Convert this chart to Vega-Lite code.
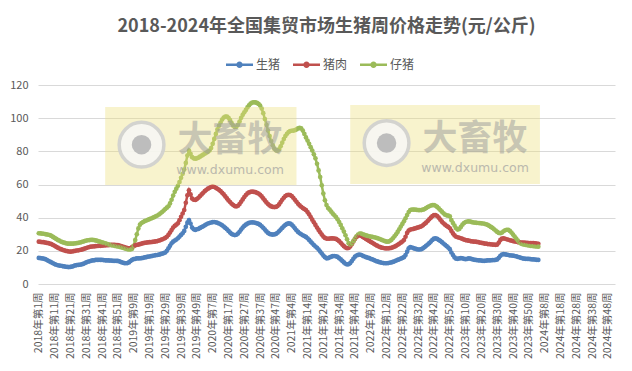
{
"$schema":"https://vega.github.io/schema/vega-lite/v6.json",
"width":577,"height":199,
"autosize":{"type":"none"},
"padding":{"left":38,"top":85,"right":17,"bottom":87},
"background":"white",
"config":{"font":"Noto Sans CJK SC","view":{"stroke":null}},
"title":{"text":"2018-2024年全国集贸市场生猪周价格走势(元/公斤)","fontSize":18,"fontWeight":"bold","color":"#595959","font":"Noto Sans CJK SC","anchor":"middle","frame":"group","offset":15},
"resolve":{"axis":{"x":"independent","y":"independent"}},
"layer":[
{"data":{"values":[
{"w":"2018年第1周","生猪":15.7,"猪肉":25.5,"仔猪":30.6},{"w":"2018年第2周","生猪":15.6,"猪肉":25.4,"仔猪":30.5},{"w":"2018年第3周","生猪":15.5,"猪肉":25.3,"仔猪":30.4},{"w":"2018年第4周","生猪":15.3,"猪肉":25.2,"仔猪":30.3},{"w":"2018年第5周","生猪":15.0,"猪肉":25.0,"仔猪":30.1},{"w":"2018年第6周","生猪":14.6,"猪肉":24.8,"仔猪":29.9},{"w":"2018年第7周","生猪":14.0,"猪肉":24.6,"仔猪":29.7},{"w":"2018年第8周","生猪":13.5,"猪肉":24.4,"仔猪":29.5},{"w":"2018年第9周","生猪":13.0,"猪肉":24.0,"仔猪":29.0},{"w":"2018年第10周","生猪":12.5,"猪肉":23.5,"仔猪":28.4},
{"w":"2018年第11周","生猪":12.0,"猪肉":23.0,"仔猪":27.8},{"w":"2018年第12周","生猪":11.6,"猪肉":22.4,"仔猪":27.2},{"w":"2018年第13周","生猪":11.3,"猪肉":21.9,"仔猪":26.6},{"w":"2018年第14周","生猪":11.1,"猪肉":21.4,"仔猪":26.1},{"w":"2018年第15周","生猪":11.0,"猪肉":21.0,"仔猪":25.6},{"w":"2018年第16周","生猪":10.8,"猪肉":20.6,"仔猪":25.2},{"w":"2018年第17周","生猪":10.6,"猪肉":20.3,"仔猪":24.9},{"w":"2018年第18周","生猪":10.4,"猪肉":20.0,"仔猪":24.6},{"w":"2018年第19周","生猪":10.3,"猪肉":19.8,"仔猪":24.4},{"w":"2018年第20周","生猪":10.2,"猪肉":19.6,"仔猪":24.3},
{"w":"2018年第21周","生猪":10.3,"猪肉":19.5,"仔猪":24.3},{"w":"2018年第22周","生猪":10.5,"猪肉":19.6,"仔猪":24.3},{"w":"2018年第23周","生猪":10.8,"猪肉":19.8,"仔猪":24.4},{"w":"2018年第24周","生猪":11.2,"猪肉":20.0,"仔猪":24.5},{"w":"2018年第25周","生猪":11.4,"猪肉":20.2,"仔猪":24.6},{"w":"2018年第26周","生猪":11.5,"猪肉":20.3,"仔猪":24.8},{"w":"2018年第27周","生猪":11.6,"猪肉":20.5,"仔猪":25.0},{"w":"2018年第28周","生猪":11.8,"猪肉":20.7,"仔猪":25.3},{"w":"2018年第29周","生猪":12.1,"猪肉":21.0,"仔猪":25.6},{"w":"2018年第30周","生猪":12.5,"猪肉":21.3,"仔猪":25.9},
{"w":"2018年第31周","生猪":13.0,"猪肉":21.7,"仔猪":26.2},{"w":"2018年第32周","生猪":13.4,"猪肉":22.0,"仔猪":26.4},{"w":"2018年第33周","生猪":13.7,"猪肉":22.3,"仔猪":26.5},{"w":"2018年第34周","生猪":14.0,"猪肉":22.5,"仔猪":26.6},{"w":"2018年第35周","生猪":14.2,"猪肉":22.6,"仔猪":26.6},{"w":"2018年第36周","生猪":14.3,"猪肉":22.7,"仔猪":26.5},{"w":"2018年第37周","生猪":14.5,"猪肉":22.8,"仔猪":26.3},{"w":"2018年第38周","生猪":14.5,"猪肉":22.9,"仔猪":26.0},{"w":"2018年第39周","生猪":14.6,"猪肉":23.0,"仔猪":25.7},{"w":"2018年第40周","生猪":14.5,"猪肉":23.0,"仔猪":25.4},
{"w":"2018年第41周","生猪":14.5,"猪肉":23.1,"仔猪":25.1},{"w":"2018年第42周","生猪":14.4,"猪肉":23.2,"仔猪":24.8},{"w":"2018年第43周","生猪":14.3,"猪肉":23.3,"仔猪":24.5},{"w":"2018年第44周","生猪":14.2,"猪肉":23.4,"仔猪":24.2},{"w":"2018年第45周","生猪":14.2,"猪肉":23.4,"仔猪":23.9},{"w":"2018年第46周","生猪":14.1,"猪肉":23.5,"仔猪":23.6},{"w":"2018年第47周","生猪":14.1,"猪肉":23.6,"仔猪":23.4},{"w":"2018年第48周","生猪":14.0,"猪肉":23.6,"仔猪":23.2},{"w":"2018年第49周","生猪":14.0,"猪肉":23.6,"仔猪":23.0},{"w":"2018年第50周","生猪":13.9,"猪肉":23.5,"仔猪":22.8},
{"w":"2018年第51周","生猪":13.9,"猪肉":23.4,"仔猪":22.6},{"w":"2018年第52周","生猪":13.6,"猪肉":23.2,"仔猪":22.4},
{"w":"2019年第1周","生猪":13.2,"猪肉":22.9,"仔猪":22.2},{"w":"2019年第2周","生猪":12.9,"猪肉":22.6,"仔猪":21.9},{"w":"2019年第3周","生猪":12.6,"猪肉":22.3,"仔猪":21.6},{"w":"2019年第4周","生猪":12.5,"猪肉":22.0,"仔猪":21.3},{"w":"2019年第5周","生猪":12.6,"猪肉":21.7,"仔猪":21.0},{"w":"2019年第6周","生猪":13.0,"猪肉":21.5,"仔猪":20.8},{"w":"2019年第7周","生猪":13.8,"猪肉":21.7,"仔猪":20.8},{"w":"2019年第8周","生猪":14.6,"猪肉":22.2,"仔猪":21.2},{"w":"2019年第9周","生猪":15.0,"猪肉":22.8,"仔猪":23.0},{"w":"2019年第10周","生猪":15.2,"猪肉":23.3,"仔猪":26.5},
{"w":"2019年第11周","生猪":15.4,"猪肉":23.6,"仔猪":30.0},{"w":"2019年第12周","生猪":15.5,"猪肉":23.8,"仔猪":33.5},{"w":"2019年第13周","生猪":15.5,"猪肉":24.0,"仔猪":35.8},{"w":"2019年第14周","生猪":15.6,"猪肉":24.3,"仔猪":36.8},{"w":"2019年第15周","生猪":15.8,"猪肉":24.6,"仔猪":37.4},{"w":"2019年第16周","生猪":16.0,"猪肉":24.8,"仔猪":37.9},{"w":"2019年第17周","生猪":16.2,"猪肉":25.0,"仔猪":38.3},{"w":"2019年第18周","生猪":16.5,"猪肉":25.1,"仔猪":38.7},{"w":"2019年第19周","生猪":16.6,"猪肉":25.2,"仔猪":39.1},{"w":"2019年第20周","生猪":16.8,"猪肉":25.3,"仔猪":39.5},
{"w":"2019年第21周","生猪":17.0,"猪肉":25.4,"仔猪":39.9},{"w":"2019年第22周","生猪":17.2,"猪肉":25.5,"仔猪":40.3},{"w":"2019年第23周","生猪":17.4,"猪肉":25.7,"仔猪":40.8},{"w":"2019年第24周","生猪":17.5,"猪肉":25.9,"仔猪":41.3},{"w":"2019年第25周","生猪":17.7,"猪肉":26.2,"仔猪":41.9},{"w":"2019年第26周","生猪":18.0,"猪肉":26.5,"仔猪":42.6},{"w":"2019年第27周","生猪":18.3,"猪肉":26.9,"仔猪":43.4},{"w":"2019年第28周","生猪":18.6,"猪肉":27.3,"仔猪":44.3},{"w":"2019年第29周","生猪":19.0,"猪肉":27.8,"仔猪":45.2},{"w":"2019年第30周","生猪":20.0,"猪肉":28.5,"仔猪":46.0},
{"w":"2019年第31周","生猪":21.5,"猪肉":29.6,"仔猪":46.9},{"w":"2019年第32周","生猪":23.0,"猪肉":31.0,"仔猪":48.6},{"w":"2019年第33周","生猪":24.5,"猪肉":32.5,"仔猪":50.8},{"w":"2019年第34周","生猪":25.5,"猪肉":34.0,"仔猪":53.3},{"w":"2019年第35周","生猪":26.2,"猪肉":35.0,"仔猪":55.6},{"w":"2019年第36周","生猪":26.8,"猪肉":35.8,"仔猪":57.5},{"w":"2019年第37周","生猪":27.6,"猪肉":36.6,"仔猪":59.2},{"w":"2019年第38周","生猪":28.6,"猪肉":38.5,"仔猪":61.5},{"w":"2019年第39周","生猪":29.6,"猪肉":40.5,"仔猪":64.0},{"w":"2019年第40周","生猪":30.6,"猪肉":42.5,"仔猪":66.5},
{"w":"2019年第41周","生猪":32.0,"猪肉":44.6,"仔猪":69.0},{"w":"2019年第42周","生猪":34.5,"猪肉":49.0,"仔猪":73.0},{"w":"2019年第43周","生猪":37.0,"猪肉":53.5,"仔猪":77.5},{"w":"2019年第44周","生猪":38.5,"猪肉":56.5,"仔猪":80.5},{"w":"2019年第45周","生猪":36.5,"猪肉":54.0,"仔猪":78.5},{"w":"2019年第46周","生猪":34.0,"猪肉":51.5,"仔猪":76.5},{"w":"2019年第47周","生猪":33.0,"猪肉":50.8,"仔猪":75.8},{"w":"2019年第48周","生猪":32.6,"猪肉":50.7,"仔猪":75.6},{"w":"2019年第49周","生猪":33.0,"猪肉":51.2,"仔猪":75.8},{"w":"2019年第50周","生猪":33.2,"猪肉":52.0,"仔猪":76.2},
{"w":"2019年第51周","生猪":33.8,"猪肉":53.0,"仔猪":76.8},{"w":"2019年第52周","生猪":34.3,"猪肉":54.0,"仔猪":77.4},
{"w":"2020年第1周","生猪":34.8,"猪肉":55.0,"仔猪":78.0},{"w":"2020年第2周","生猪":35.4,"猪肉":56.0,"仔猪":78.6},{"w":"2020年第3周","生猪":36.0,"猪肉":56.8,"仔猪":79.2},{"w":"2020年第4周","生猪":36.5,"猪肉":57.5,"仔猪":79.8},{"w":"2020年第5周","生猪":36.8,"猪肉":58.0,"仔猪":80.5},{"w":"2020年第6周","生猪":37.1,"猪肉":58.5,"仔猪":82.0},{"w":"2020年第7周","生猪":37.3,"猪肉":58.7,"仔猪":84.5},{"w":"2020年第8周","生猪":37.4,"猪肉":58.5,"仔猪":87.5},{"w":"2020年第9周","生猪":37.2,"猪肉":58.0,"仔猪":90.5},{"w":"2020年第10周","生猪":36.9,"猪肉":57.4,"仔猪":93.2},
{"w":"2020年第11周","生猪":36.5,"猪肉":56.8,"仔猪":95.4},{"w":"2020年第12周","生猪":36.0,"猪肉":56.0,"仔猪":97.4},{"w":"2020年第13周","生猪":35.4,"猪肉":55.0,"仔猪":99.2},{"w":"2020年第14周","生猪":34.6,"猪肉":54.0,"仔猪":100.4},{"w":"2020年第15周","生猪":33.8,"猪肉":52.8,"仔猪":101.0},{"w":"2020年第16周","生猪":33.0,"猪肉":51.6,"仔猪":101.0},{"w":"2020年第17周","生猪":32.0,"猪肉":50.4,"仔猪":100.2},{"w":"2020年第18周","生猪":31.0,"猪肉":49.4,"仔猪":98.8},{"w":"2020年第19周","生猪":30.2,"猪肉":48.4,"仔猪":97.0},{"w":"2020年第20周","生猪":29.7,"猪肉":47.6,"仔猪":95.5},
{"w":"2020年第21周","生猪":29.5,"猪肉":47.0,"仔猪":94.6},{"w":"2020年第22周","生猪":29.7,"猪肉":46.8,"仔猪":94.8},{"w":"2020年第23周","生猪":30.4,"猪肉":47.2,"仔猪":96.0},{"w":"2020年第24周","生猪":31.5,"猪肉":48.2,"仔猪":98.0},{"w":"2020年第25周","生猪":32.8,"猪肉":49.6,"仔猪":100.2},{"w":"2020年第26周","生猪":34.0,"猪肉":51.0,"仔猪":102.0},{"w":"2020年第27周","生猪":35.0,"猪肉":52.4,"仔猪":103.5},{"w":"2020年第28周","生猪":35.8,"猪肉":53.6,"仔猪":105.0},{"w":"2020年第29周","生猪":36.4,"猪肉":54.6,"仔猪":106.5},{"w":"2020年第30周","生猪":36.9,"猪肉":55.2,"仔猪":107.8},
{"w":"2020年第31周","生猪":37.1,"猪肉":55.6,"仔猪":108.8},{"w":"2020年第32周","生猪":37.2,"猪肉":55.7,"仔猪":109.4},{"w":"2020年第33周","生猪":37.1,"猪肉":55.6,"仔猪":109.6},{"w":"2020年第34周","生猪":36.9,"猪肉":55.4,"仔猪":109.5},{"w":"2020年第35周","生猪":36.6,"猪肉":55.0,"仔猪":109.2},{"w":"2020年第36周","生猪":36.2,"猪肉":54.5,"仔猪":108.6},{"w":"2020年第37周","生猪":35.6,"猪肉":53.8,"仔猪":107.6},{"w":"2020年第38周","生猪":34.8,"猪肉":52.8,"仔猪":105.8},{"w":"2020年第39周","生猪":33.9,"猪肉":51.6,"仔猪":103.0},{"w":"2020年第40周","生猪":32.8,"猪肉":50.4,"仔猪":99.5},
{"w":"2020年第41周","生猪":31.7,"猪肉":49.2,"仔猪":96.0},{"w":"2020年第42周","生猪":30.8,"猪肉":48.2,"仔猪":92.5},{"w":"2020年第43周","生猪":30.2,"猪肉":47.4,"仔猪":89.2},{"w":"2020年第44周","生猪":29.9,"猪肉":46.8,"仔猪":86.2},{"w":"2020年第45周","生猪":29.8,"猪肉":46.5,"仔猪":83.6},{"w":"2020年第46周","生猪":29.9,"猪肉":46.4,"仔猪":81.6},{"w":"2020年第47周","生猪":30.2,"猪肉":46.5,"仔猪":80.6},{"w":"2020年第48周","生猪":30.9,"猪肉":47.0,"仔猪":80.4},{"w":"2020年第49周","生猪":31.8,"猪肉":48.0,"仔猪":81.2},{"w":"2020年第50周","生猪":32.8,"猪肉":49.4,"仔猪":83.0},
{"w":"2020年第51周","生猪":33.8,"猪肉":50.8,"仔猪":85.2},{"w":"2020年第52周","生猪":34.8,"猪肉":52.0,"仔猪":87.4},{"w":"2020年第53周","生猪":35.6,"猪肉":53.0,"仔猪":89.2},
{"w":"2021年第1周","生猪":36.2,"猪肉":53.6,"仔猪":90.6},{"w":"2021年第2周","生猪":36.6,"猪肉":53.8,"仔猪":91.6},{"w":"2021年第3周","生猪":36.4,"猪肉":53.6,"仔猪":92.2},{"w":"2021年第4周","生猪":35.8,"猪肉":53.0,"仔猪":92.4},{"w":"2021年第5周","生猪":34.8,"猪肉":52.0,"仔猪":92.5},{"w":"2021年第6周","生猪":33.6,"猪肉":50.8,"仔猪":92.7},{"w":"2021年第7周","生猪":32.4,"猪肉":49.6,"仔猪":93.2},{"w":"2021年第8周","生猪":31.4,"猪肉":48.4,"仔猪":93.8},{"w":"2021年第9周","生猪":30.6,"猪肉":47.4,"仔猪":94.2},{"w":"2021年第10周","生猪":30.0,"猪肉":46.6,"仔猪":93.8},
{"w":"2021年第11周","生猪":29.4,"猪肉":45.8,"仔猪":92.5},{"w":"2021年第12周","生猪":28.9,"猪肉":45.2,"仔猪":90.5},{"w":"2021年第13周","生猪":28.4,"猪肉":44.6,"仔猪":88.4},{"w":"2021年第14周","生猪":27.6,"猪肉":43.4,"仔猪":86.5},{"w":"2021年第15周","生猪":26.6,"猪肉":42.0,"仔猪":84.5},{"w":"2021年第16周","生猪":25.5,"猪肉":40.4,"仔猪":82.5},{"w":"2021年第17周","生猪":24.5,"猪肉":38.8,"仔猪":80.5},{"w":"2021年第18周","生猪":23.5,"猪肉":37.2,"仔猪":78.2},{"w":"2021年第19周","生猪":22.6,"猪肉":35.6,"仔猪":75.8},{"w":"2021年第20周","生猪":21.8,"猪肉":34.0,"仔猪":72.5},
{"w":"2021年第21周","生猪":20.8,"猪肉":32.6,"仔猪":68.5},{"w":"2021年第22周","生猪":19.6,"猪肉":31.2,"仔猪":64.5},{"w":"2021年第23周","生猪":18.4,"猪肉":29.8,"仔猪":59.5},{"w":"2021年第24周","生猪":17.2,"猪肉":28.6,"仔猪":54.5},{"w":"2021年第25周","生猪":16.2,"猪肉":27.8,"仔猪":50.5},{"w":"2021年第26周","生猪":15.5,"猪肉":27.4,"仔猪":47.6},{"w":"2021年第27周","生猪":15.6,"猪肉":27.3,"仔猪":45.8},{"w":"2021年第28周","生猪":16.0,"猪肉":27.4,"仔猪":44.8},{"w":"2021年第29周","生猪":16.5,"猪肉":27.5,"仔猪":43.6},{"w":"2021年第30周","生猪":16.8,"猪肉":27.5,"仔猪":42.4},
{"w":"2021年第31周","生猪":16.9,"猪肉":27.4,"仔猪":41.4},{"w":"2021年第32周","生猪":16.7,"猪肉":27.2,"仔猪":40.4},{"w":"2021年第33周","生猪":16.3,"猪肉":26.6,"仔猪":39.0},{"w":"2021年第34周","生猪":15.6,"猪肉":25.8,"仔猪":37.4},{"w":"2021年第35周","生猪":14.8,"猪肉":24.8,"仔猪":35.6},{"w":"2021年第36周","生猪":13.9,"猪肉":23.8,"仔猪":33.6},{"w":"2021年第37周","生猪":13.0,"猪肉":22.8,"仔猪":31.6},{"w":"2021年第38周","生猪":12.2,"猪肉":22.0,"仔猪":29.4},{"w":"2021年第39周","生猪":11.8,"猪肉":21.6,"仔猪":27.0},{"w":"2021年第40周","生猪":11.9,"猪肉":21.7,"仔猪":24.6},
{"w":"2021年第41周","生猪":12.6,"猪肉":22.6,"仔猪":23.8},{"w":"2021年第42周","生猪":13.8,"猪肉":24.0,"仔猪":24.4},{"w":"2021年第43周","生猪":15.2,"猪肉":25.6,"仔猪":25.8},{"w":"2021年第44周","生猪":16.5,"猪肉":27.2,"仔猪":27.4},{"w":"2021年第45周","生猪":17.2,"猪肉":28.4,"仔猪":28.8},{"w":"2021年第46周","生猪":17.6,"猪肉":29.2,"仔猪":29.8},{"w":"2021年第47周","生猪":17.8,"猪肉":29.4,"仔猪":30.4},{"w":"2021年第48周","生猪":17.5,"猪肉":29.0,"仔猪":30.4},{"w":"2021年第49周","生猪":17.0,"猪肉":28.4,"仔猪":30.0},{"w":"2021年第50周","生猪":16.6,"猪肉":27.8,"仔猪":29.6},
{"w":"2021年第51周","生猪":16.2,"猪肉":27.2,"仔猪":29.3},{"w":"2021年第52周","生猪":15.9,"猪肉":26.6,"仔猪":29.0},
{"w":"2022年第1周","生猪":15.6,"猪肉":26.0,"仔猪":28.8},{"w":"2022年第2周","生猪":15.2,"猪肉":25.4,"仔猪":28.6},{"w":"2022年第3周","生猪":14.8,"猪肉":24.8,"仔猪":28.4},{"w":"2022年第4周","生猪":14.4,"猪肉":24.2,"仔猪":28.2},{"w":"2022年第5周","生猪":14.0,"猪肉":23.6,"仔猪":28.0},{"w":"2022年第6周","生猪":13.6,"猪肉":23.1,"仔猪":27.7},{"w":"2022年第7周","生猪":13.3,"猪肉":22.6,"仔猪":27.4},{"w":"2022年第8周","生猪":13.0,"猪肉":22.2,"仔猪":27.0},{"w":"2022年第9周","生猪":12.8,"猪肉":21.9,"仔猪":26.6},{"w":"2022年第10周","生猪":12.6,"猪肉":21.7,"仔猪":26.2},
{"w":"2022年第11周","生猪":12.5,"猪肉":21.5,"仔猪":25.8},{"w":"2022年第12周","生猪":12.5,"猪肉":21.5,"仔猪":25.5},{"w":"2022年第13周","生猪":12.6,"猪肉":21.5,"仔猪":25.5},{"w":"2022年第14周","生猪":12.8,"猪肉":21.6,"仔猪":25.9},{"w":"2022年第15周","生猪":13.0,"猪肉":21.8,"仔猪":26.6},{"w":"2022年第16周","生猪":13.3,"猪肉":22.1,"仔猪":27.6},{"w":"2022年第17周","生猪":13.7,"猪肉":22.5,"仔猪":28.8},{"w":"2022年第18周","生猪":14.1,"猪肉":23.0,"仔猪":30.0},{"w":"2022年第19周","生猪":14.5,"猪肉":23.6,"仔猪":31.4},{"w":"2022年第20周","生猪":14.9,"猪肉":24.2,"仔猪":33.0},
{"w":"2022年第21周","生猪":15.3,"猪肉":24.9,"仔猪":34.6},{"w":"2022年第22周","生猪":15.7,"猪肉":25.6,"仔猪":36.2},{"w":"2022年第23周","生猪":16.2,"猪肉":26.5,"仔猪":37.8},{"w":"2022年第24周","生猪":17.5,"猪肉":28.5,"仔猪":39.6},{"w":"2022年第25周","生猪":19.5,"猪肉":30.8,"仔猪":41.6},{"w":"2022年第26周","生猪":21.5,"猪肉":32.2,"仔猪":43.4},{"w":"2022年第27周","生猪":22.3,"猪肉":32.8,"仔猪":44.6},{"w":"2022年第28周","生猪":22.0,"猪肉":33.0,"仔猪":44.9},{"w":"2022年第29周","生猪":21.6,"猪肉":33.2,"仔猪":44.9},{"w":"2022年第30周","生猪":21.3,"猪肉":33.5,"仔猪":44.8},
{"w":"2022年第31周","生猪":21.0,"猪肉":33.8,"仔猪":44.7},{"w":"2022年第32周","生猪":20.8,"猪肉":34.1,"仔猪":44.6},{"w":"2022年第33周","生猪":20.8,"猪肉":34.4,"仔猪":44.6},{"w":"2022年第34周","生猪":21.0,"猪肉":34.8,"仔猪":44.6},{"w":"2022年第35周","生猪":21.5,"猪肉":35.4,"仔猪":44.8},{"w":"2022年第36周","生猪":22.2,"猪肉":36.2,"仔猪":45.2},{"w":"2022年第37周","生猪":23.0,"猪肉":37.0,"仔猪":45.8},{"w":"2022年第38周","生猪":23.8,"猪肉":38.0,"仔猪":46.4},{"w":"2022年第39周","生猪":24.6,"猪肉":39.0,"仔猪":46.9},{"w":"2022年第40周","生猪":25.6,"猪肉":40.0,"仔猪":47.3},
{"w":"2022年第41周","生猪":26.6,"猪肉":40.9,"仔猪":47.6},{"w":"2022年第42周","生猪":27.4,"猪肉":41.5,"仔猪":47.6},{"w":"2022年第43周","生猪":27.5,"猪肉":41.6,"仔猪":47.2},{"w":"2022年第44周","生猪":27.2,"猪肉":41.0,"仔猪":46.5},{"w":"2022年第45周","生猪":26.6,"猪肉":40.0,"仔猪":45.6},{"w":"2022年第46周","生猪":26.0,"猪肉":38.8,"仔猪":44.6},{"w":"2022年第47周","生猪":25.2,"猪肉":37.6,"仔猪":43.6},{"w":"2022年第48周","生猪":24.4,"猪肉":36.6,"仔猪":42.6},{"w":"2022年第49周","生猪":23.6,"猪肉":35.8,"仔猪":41.8},{"w":"2022年第50周","生猪":22.8,"猪肉":35.0,"仔猪":41.4},
{"w":"2022年第51周","生猪":22.0,"猪肉":34.4,"仔猪":41.2},{"w":"2022年第52周","生猪":21.0,"猪肉":33.6,"仔猪":40.8},
{"w":"2023年第1周","生猪":19.0,"猪肉":32.0,"仔猪":38.5},{"w":"2023年第2周","生猪":17.5,"猪肉":30.5,"仔猪":36.8},{"w":"2023年第3周","生猪":16.0,"猪肉":29.3,"仔猪":35.2},{"w":"2023年第4周","生猪":15.3,"猪肉":28.5,"仔猪":33.6},{"w":"2023年第5周","生猪":15.2,"猪肉":28.2,"仔猪":32.8},{"w":"2023年第6周","生猪":15.4,"猪肉":27.9,"仔猪":33.2},{"w":"2023年第7周","生猪":15.6,"猪肉":27.6,"仔猪":34.4},{"w":"2023年第8周","生猪":15.5,"猪肉":27.2,"仔猪":35.8},{"w":"2023年第9周","生猪":15.2,"猪肉":26.8,"仔猪":36.8},{"w":"2023年第10周","生猪":15.0,"猪肉":26.5,"仔猪":37.4},
{"w":"2023年第11周","生猪":15.2,"猪肉":26.3,"仔猪":37.7},{"w":"2023年第12周","生猪":15.4,"猪肉":26.1,"仔猪":37.8},{"w":"2023年第13周","生猪":15.3,"猪肉":25.9,"仔猪":37.6},{"w":"2023年第14周","生猪":15.0,"猪肉":25.7,"仔猪":37.3},{"w":"2023年第15周","生猪":14.7,"猪肉":25.6,"仔猪":37.1},{"w":"2023年第16周","生猪":14.5,"猪肉":25.5,"仔猪":37.0},{"w":"2023年第17周","生猪":14.4,"猪肉":25.4,"仔猪":36.9},{"w":"2023年第18周","生猪":14.3,"猪肉":25.2,"仔猪":36.8},{"w":"2023年第19周","生猪":14.2,"猪肉":25.0,"仔猪":36.7},{"w":"2023年第20周","生猪":14.1,"猪肉":24.8,"仔猪":36.6},
{"w":"2023年第21周","生猪":14.0,"猪肉":24.6,"仔猪":36.5},{"w":"2023年第22周","生猪":14.0,"猪肉":24.4,"仔猪":36.3},{"w":"2023年第23周","生猪":14.1,"猪肉":24.3,"仔猪":36.0},{"w":"2023年第24周","生猪":14.2,"猪肉":24.1,"仔猪":35.6},{"w":"2023年第25周","生猪":14.3,"猪肉":24.0,"仔猪":35.0},{"w":"2023年第26周","生猪":14.3,"猪肉":23.9,"仔猪":34.4},{"w":"2023年第27周","生猪":14.4,"猪肉":23.8,"仔猪":33.8},{"w":"2023年第28周","生猪":14.4,"猪肉":23.7,"仔猪":33.0},{"w":"2023年第29周","生猪":14.5,"猪肉":23.6,"仔猪":32.2},{"w":"2023年第30周","生猪":14.8,"猪肉":23.8,"仔猪":31.4},
{"w":"2023年第31周","生猪":15.8,"猪肉":25.0,"仔猪":30.8},{"w":"2023年第32周","生猪":17.0,"猪肉":26.6,"仔猪":30.6},{"w":"2023年第33周","生猪":17.8,"猪肉":27.4,"仔猪":31.0},{"w":"2023年第34周","生猪":18.0,"猪肉":27.5,"仔猪":31.8},{"w":"2023年第35周","生猪":17.9,"猪肉":27.3,"仔猪":32.4},{"w":"2023年第36周","生猪":17.7,"猪肉":27.0,"仔猪":32.7},{"w":"2023年第37周","生猪":17.5,"猪肉":26.7,"仔猪":32.6},{"w":"2023年第38周","生猪":17.3,"猪肉":26.4,"仔猪":32.0},{"w":"2023年第39周","生猪":17.2,"猪肉":26.1,"仔猪":31.0},{"w":"2023年第40周","生猪":17.1,"猪肉":25.9,"仔猪":29.8},
{"w":"2023年第41周","生猪":16.9,"猪肉":25.7,"仔猪":28.6},{"w":"2023年第42周","生猪":16.7,"猪肉":25.5,"仔猪":27.4},{"w":"2023年第43周","生猪":16.4,"猪肉":25.3,"仔猪":26.2},{"w":"2023年第44周","生猪":16.1,"猪肉":25.1,"仔猪":25.2},{"w":"2023年第45周","生猪":15.8,"猪肉":25.0,"仔猪":24.4},{"w":"2023年第46周","生猪":15.5,"猪肉":24.9,"仔猪":24.0},{"w":"2023年第47周","生猪":15.3,"猪肉":24.9,"仔猪":23.8},{"w":"2023年第48周","生猪":15.2,"猪肉":24.8,"仔猪":23.6},{"w":"2023年第49周","生猪":15.1,"猪肉":24.8,"仔猪":23.4},{"w":"2023年第50周","生猪":15.1,"猪肉":24.7,"仔猪":23.2},
{"w":"2023年第51周","生猪":15.0,"猪肉":24.7,"仔猪":23.0},{"w":"2023年第52周","生猪":14.9,"猪肉":24.6,"仔猪":22.9},
{"w":"2024年第1周","生猪":14.8,"猪肉":24.6,"仔猪":22.8},{"w":"2024年第2周","生猪":14.7,"猪肉":24.5,"仔猪":22.7},{"w":"2024年第3周","生猪":14.6,"猪肉":24.4,"仔猪":22.6},{"w":"2024年第4周","生猪":14.5,"猪肉":24.2,"仔猪":22.5}
]},
"transform":[{"fold":["生猪","猪肉","仔猪"],"as":["品种","价格"]}],
"encoding":{
"x":{"field":"w","type":"ordinal","sort":null,"title":null,
"scale":{"type":"point","padding":0.5,"domain":["2018年第1周","2018年第2周","2018年第3周","2018年第4周","2018年第5周","2018年第6周","2018年第7周","2018年第8周","2018年第9周","2018年第10周","2018年第11周","2018年第12周","2018年第13周","2018年第14周","2018年第15周","2018年第16周","2018年第17周","2018年第18周","2018年第19周","2018年第20周","2018年第21周","2018年第22周","2018年第23周","2018年第24周","2018年第25周","2018年第26周","2018年第27周","2018年第28周","2018年第29周","2018年第30周","2018年第31周","2018年第32周","2018年第33周","2018年第34周","2018年第35周","2018年第36周","2018年第37周","2018年第38周","2018年第39周","2018年第40周","2018年第41周","2018年第42周","2018年第43周","2018年第44周","2018年第45周","2018年第46周","2018年第47周","2018年第48周","2018年第49周","2018年第50周","2018年第51周","2018年第52周",
"2019年第1周","2019年第2周","2019年第3周","2019年第4周","2019年第5周","2019年第6周","2019年第7周","2019年第8周","2019年第9周","2019年第10周","2019年第11周","2019年第12周","2019年第13周","2019年第14周","2019年第15周","2019年第16周","2019年第17周","2019年第18周","2019年第19周","2019年第20周","2019年第21周","2019年第22周","2019年第23周","2019年第24周","2019年第25周","2019年第26周","2019年第27周","2019年第28周","2019年第29周","2019年第30周","2019年第31周","2019年第32周","2019年第33周","2019年第34周","2019年第35周","2019年第36周","2019年第37周","2019年第38周","2019年第39周","2019年第40周","2019年第41周","2019年第42周","2019年第43周","2019年第44周","2019年第45周","2019年第46周","2019年第47周","2019年第48周","2019年第49周","2019年第50周","2019年第51周","2019年第52周",
"2020年第1周","2020年第2周","2020年第3周","2020年第4周","2020年第5周","2020年第6周","2020年第7周","2020年第8周","2020年第9周","2020年第10周","2020年第11周","2020年第12周","2020年第13周","2020年第14周","2020年第15周","2020年第16周","2020年第17周","2020年第18周","2020年第19周","2020年第20周","2020年第21周","2020年第22周","2020年第23周","2020年第24周","2020年第25周","2020年第26周","2020年第27周","2020年第28周","2020年第29周","2020年第30周","2020年第31周","2020年第32周","2020年第33周","2020年第34周","2020年第35周","2020年第36周","2020年第37周","2020年第38周","2020年第39周","2020年第40周","2020年第41周","2020年第42周","2020年第43周","2020年第44周","2020年第45周","2020年第46周","2020年第47周","2020年第48周","2020年第49周","2020年第50周","2020年第51周","2020年第52周","2020年第53周",
"2021年第1周","2021年第2周","2021年第3周","2021年第4周","2021年第5周","2021年第6周","2021年第7周","2021年第8周","2021年第9周","2021年第10周","2021年第11周","2021年第12周","2021年第13周","2021年第14周","2021年第15周","2021年第16周","2021年第17周","2021年第18周","2021年第19周","2021年第20周","2021年第21周","2021年第22周","2021年第23周","2021年第24周","2021年第25周","2021年第26周","2021年第27周","2021年第28周","2021年第29周","2021年第30周","2021年第31周","2021年第32周","2021年第33周","2021年第34周","2021年第35周","2021年第36周","2021年第37周","2021年第38周","2021年第39周","2021年第40周","2021年第41周","2021年第42周","2021年第43周","2021年第44周","2021年第45周","2021年第46周","2021年第47周","2021年第48周","2021年第49周","2021年第50周","2021年第51周","2021年第52周",
"2022年第1周","2022年第2周","2022年第3周","2022年第4周","2022年第5周","2022年第6周","2022年第7周","2022年第8周","2022年第9周","2022年第10周","2022年第11周","2022年第12周","2022年第13周","2022年第14周","2022年第15周","2022年第16周","2022年第17周","2022年第18周","2022年第19周","2022年第20周","2022年第21周","2022年第22周","2022年第23周","2022年第24周","2022年第25周","2022年第26周","2022年第27周","2022年第28周","2022年第29周","2022年第30周","2022年第31周","2022年第32周","2022年第33周","2022年第34周","2022年第35周","2022年第36周","2022年第37周","2022年第38周","2022年第39周","2022年第40周","2022年第41周","2022年第42周","2022年第43周","2022年第44周","2022年第45周","2022年第46周","2022年第47周","2022年第48周","2022年第49周","2022年第50周","2022年第51周","2022年第52周",
"2023年第1周","2023年第2周","2023年第3周","2023年第4周","2023年第5周","2023年第6周","2023年第7周","2023年第8周","2023年第9周","2023年第10周","2023年第11周","2023年第12周","2023年第13周","2023年第14周","2023年第15周","2023年第16周","2023年第17周","2023年第18周","2023年第19周","2023年第20周","2023年第21周","2023年第22周","2023年第23周","2023年第24周","2023年第25周","2023年第26周","2023年第27周","2023年第28周","2023年第29周","2023年第30周","2023年第31周","2023年第32周","2023年第33周","2023年第34周","2023年第35周","2023年第36周","2023年第37周","2023年第38周","2023年第39周","2023年第40周","2023年第41周","2023年第42周","2023年第43周","2023年第44周","2023年第45周","2023年第46周","2023年第47周","2023年第48周","2023年第49周","2023年第50周","2023年第51周","2023年第52周",
"2024年第1周","2024年第2周","2024年第3周","2024年第4周","2024年第5周","2024年第6周","2024年第7周","2024年第8周","2024年第9周","2024年第10周","2024年第11周","2024年第12周","2024年第13周","2024年第14周","2024年第15周","2024年第16周","2024年第17周","2024年第18周","2024年第19周","2024年第20周","2024年第21周","2024年第22周","2024年第23周","2024年第24周","2024年第25周","2024年第26周","2024年第27周","2024年第28周","2024年第29周","2024年第30周","2024年第31周","2024年第32周","2024年第33周","2024年第34周","2024年第35周","2024年第36周","2024年第37周","2024年第38周","2024年第39周","2024年第40周","2024年第41周","2024年第42周","2024年第43周","2024年第44周","2024年第45周","2024年第46周","2024年第47周","2024年第48周","2024年第49周","2024年第50周","2024年第51周","2024年第52周"]},
"axis":{"values":["2018年第1周","2018年第11周","2018年第21周","2018年第31周","2018年第41周","2018年第51周","2019年第9周","2019年第19周","2019年第29周","2019年第39周","2019年第49周","2020年第7周","2020年第17周","2020年第27周","2020年第37周","2020年第47周","2021年第4周","2021年第14周","2021年第24周","2021年第34周","2021年第44周","2022年第2周","2022年第12周","2022年第22周","2022年第32周","2022年第42周","2022年第52周","2023年第10周","2023年第20周","2023年第30周","2023年第40周","2023年第50周","2024年第8周","2024年第18周","2024年第28周","2024年第38周","2024年第48周"],
"labelAngle":-90,"labelFontSize":10.5,"labelColor":"#595959","labelFont":"Noto Sans CJK SC","labelPadding":8,"ticks":false,"domain":false,"grid":false,"labelOverlap":false}},
"y":{"field":"价格","type":"quantitative","title":null,"scale":{"domain":[0,120],"nice":false,"zero":true},
"axis":{"values":[0,20,40,60,80,100,120],"grid":true,"gridColor":"#d9d9d9","gridWidth":1,"gridOpacity":1,"domain":false,"ticks":false,"labelPadding":10,"labelFontSize":11,"labelColor":"#595959","labelFont":"Noto Sans CJK SC","labelOverlap":false}},
"color":{"field":"品种","type":"nominal","scale":{"domain":["生猪","猪肉","仔猪"],"range":["#4F81BD","#C0504D","#9BBB59"]},
 "legend":{"orient":"none","legendX":188,"legendY":-34,"direction":"horizontal","title":null,"symbolType":"M-1,-0.1H1V0.1H-1Z M-0.24,0A0.24,0.24,0,1,1,0.24,0A0.24,0.24,0,1,1,-0.24,0Z","symbolSize":729,"symbolStrokeWidth":0,"symbolOpacity":1,"labelFontSize":12,"labelColor":"#595959","labelFont":"Noto Sans CJK SC","columnPadding":12,"labelOffset":3}}
},
"layer":[
{"mark":{"type":"line","strokeWidth":2.5}},
{"mark":{"type":"point","filled":true,"size":22,"opacity":1}}
]},
{"data":{"values":[{"w":"2018年第43周","w2":"2021年第7周","lo":59.7,"hi":106.8},{"w":"2021年第41周","w2":"2024年第5周","lo":60.3,"hi":108}]},
 "mark":{"type":"rect","fill":"#ece07c","opacity":0.38},
 "encoding":{"x":{"field":"w","type":"ordinal","axis":null},"x2":{"field":"w2"},"y":{"field":"lo","type":"quantitative","axis":null},"y2":{"field":"hi"}}},
{"data":{"values":[{"w":"2019年第14周","v":84},{"w":"2022年第12周","v":85}]},
 "encoding":{"x":{"field":"w","type":"ordinal","axis":null},"y":{"field":"v","type":"quantitative","axis":null}},
 "layer":[
 {"mark":{"type":"point","shape":"circle","size":2000,"filled":true,"fill":"#f7f7f4","stroke":"#d0d0d0","strokeWidth":3.5,"opacity":0.9}},
 {"mark":{"type":"point","shape":"circle","size":380,"filled":true,"fill":"#bdbdbd","opacity":1}}
 ]},
{"data":{"values":[{"w":"2020年第18周","v":87,"t":"大畜牧"},{"w":"2023年第16周","v":87.5,"t":"大畜牧"}]},
 "mark":{"type":"text","fontSize":35,"fontWeight":"bold","fill":"#9a9a9a","opacity":0.5,"baseline":"middle","align":"center","font":"Noto Sans CJK SC"},
 "encoding":{"x":{"field":"w","type":"ordinal","axis":null},"y":{"field":"v","type":"quantitative","axis":null},"text":{"field":"t"}}},
{"data":{"values":[{"w":"2020年第18周","v":68.8,"t":"www.dxumu.com"},{"w":"2023年第16周","v":70,"t":"www.dxumu.com"}]},
 "mark":{"type":"text","fontSize":12.5,"fill":"#a0a0a0","opacity":0.7,"baseline":"middle","align":"center","font":"DejaVu Sans"},
 "encoding":{"x":{"field":"w","type":"ordinal","axis":null},"y":{"field":"v","type":"quantitative","axis":null},"text":{"field":"t"}}}
]
}
